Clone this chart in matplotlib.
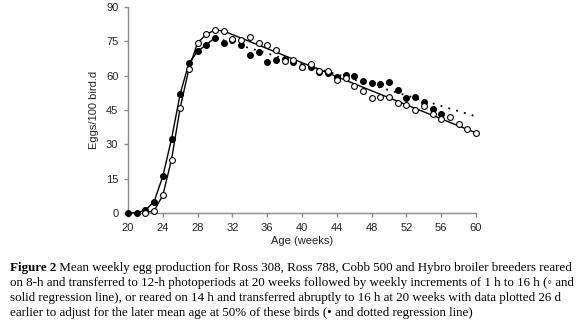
import matplotlib
matplotlib.use("Agg")
import matplotlib.pyplot as plt
import numpy as np

# Open circles: 8-h -> 12-h, weekly increments to 16 h
open_weeks = [22, 23, 24, 25, 26, 27, 28, 29, 30, 31, 32, 33, 34, 35, 36, 37, 38, 39,
              40, 41, 42, 43, 44, 45, 46, 47, 48, 49, 50, 51, 52, 53, 54, 55, 56, 57, 58, 59, 60]
open_vals = [0.0, 1.0, 7.7, 23.3, 46.0, 63.0, 74.4, 78.0, 80.0, 79.5, 75.9, 75.4, 77.0, 74.3,
             73.5, 71.0, 66.6, 67.0, 63.8, 65.2, 62.0, 61.9, 58.0, 59.0, 55.6, 53.4, 50.2,
             50.7, 50.7, 48.0, 47.3, 44.9, 46.9, 43.4, 41.2, 42.0, 39.0, 36.8, 35.0]

# Filled circles: 14 h -> 16 h abruptly (shifted 26 d earlier)
filled_weeks = [20, 21, 22, 23, 24, 25, 26, 27, 28, 29, 30, 31, 32, 33, 34, 35, 36, 37, 38,
                39, 40, 41, 42, 43, 44, 45, 46, 47, 48, 49, 50, 51, 52, 53, 54, 55, 56]
filled_vals = [0.0, 0.2, 1.2, 5.0, 16.0, 32.3, 52.1, 65.5, 70.6, 73.5, 76.6, 74.4, 75.7, 73.5,
               69.2, 70.2, 66.0, 66.8, 67.4, 66.0, 63.8, 63.8, 61.6, 61.3, 59.4, 60.1, 59.7,
               57.5, 56.8, 56.5, 57.1, 53.6, 50.2, 50.8, 48.5, 45.6, 43.4]

# Regression lines (end points)
open_reg_weeks = [31, 60]
open_reg_vals = [79.5, 35.0]
filled_reg_weeks = [30, 60]
filled_reg_vals = [76.6, 42.2]

open_peak_week = 31
filled_peak_week = 30

x_ticks = [20, 24, 28, 32, 36, 40, 44, 48, 52, 56, 60]
y_ticks = [0, 15, 30, 45, 60, 75, 90]

caption_bold = "Figure 2"
caption_lines = [
    " Mean weekly egg production for Ross 308, Ross 788, Cobb 500 and Hybro broiler breeders reared",
    "on 8-h and transferred to 12-h photoperiods at 20 weeks followed by weekly increments of 1 h to 16 h (\u25e6 and",
    "solid regression line), or reared on 14 h and transferred abruptly to 16 h at 20 weeks with data plotted 26 d",
    "earlier to adjust for the later mean age at 50% of these birds (\u2022 and dotted regression line)",
]

fig = plt.figure(figsize=(5.8, 3.32), dpi=100)
ax = fig.add_axes([128/580, 1-213/332, 348/580, 206/332])

ow = np.array(open_weeks); ov = np.array(open_vals)
fw = np.array(filled_weeks); fv = np.array(filled_vals)

# rising connecting lines
m = ow <= open_peak_week
ax.plot(ow[m], ov[m], color="black", lw=1.0, zorder=2)
m2 = fw <= filled_peak_week
ax.plot(fw[m2], fv[m2], color="black", lw=1.0, zorder=2)
# regression lines
ax.plot(open_reg_weeks, open_reg_vals, color="black", lw=1.0, zorder=2)
ax.plot(filled_reg_weeks, filled_reg_vals, color="black", lw=1.3,
        linestyle=(0, (1, 3.5)), zorder=2)

ax.plot(fw, fv, "o", ms=4.2, mfc="black", mec="black", mew=0.8, zorder=3)
ax.plot(ow, ov, "o", ms=4.2, mfc="white", mec="black", mew=0.8, zorder=4)

ax.set_xlim(20, 60)
ax.set_ylim(0, 90)
ax.set_xticks(x_ticks)
ax.set_yticks(y_ticks)
for s in ["top", "right"]:
    ax.spines[s].set_visible(False)
for s in ["left", "bottom"]:
    ax.spines[s].set_color("#8a8a8a")
    ax.spines[s].set_linewidth(1.0)
ax.spines["bottom"].set_zorder(1)
ax.tick_params(axis="both", direction="out", length=3, width=1.0, color="#8a8a8a",
               labelsize=8, labelcolor="#222222", pad=4)
for lab in ax.get_xticklabels() + ax.get_yticklabels():
    lab.set_fontfamily("Liberation Sans")
ax.set_xlabel("Age (weeks)", fontsize=8, family="Liberation Sans", color="#222222", labelpad=2)
ax.set_ylabel("Eggs/100 bird.d", fontsize=8, family="Liberation Sans", color="#222222", labelpad=5)
for ln in ax.get_lines():
    ln.set_clip_on(False)

# caption
fs = 9.4
y0 = 1 - 268/332
dy = 15/332
tb = fig.text(10/580, y0, caption_bold, fontsize=fs, family="Liberation Serif",
              weight="bold", va="center", ha="left")
fig.canvas.draw()
bb = tb.get_window_extent()
x1 = bb.x1 / fig.bbox.width
fig.text(x1, y0, caption_lines[0], fontsize=fs, family="Liberation Serif", va="center", ha="left")
for i, line in enumerate(caption_lines[1:], start=1):
    fig.text(10/580, y0 - i*dy, line, fontsize=fs, family="Liberation Serif",
             va="center", ha="left")

fig.savefig("out.png", dpi=100)
